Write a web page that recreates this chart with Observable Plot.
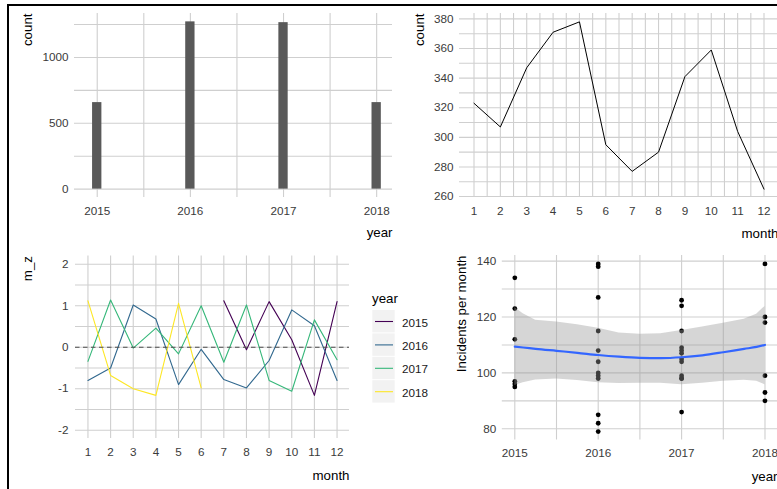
<!DOCTYPE html>
<html><head><meta charset="utf-8">
<script src="https://cdn.jsdelivr.net/npm/d3@7"></script>
<script src="https://cdn.jsdelivr.net/npm/@observablehq/plot@0.6"></script>
<style>
html,body{margin:0;padding:0;background:#fff;}
#wrap{position:relative;width:777px;height:489px;overflow:hidden;background:#fff;font-family:"Liberation Sans",Arial,sans-serif;}
#wrap svg{position:absolute;overflow:visible;}
#frame{position:absolute;left:7px;top:4px;width:800px;height:500px;border-left:2px solid #000;border-top:2px solid #000;pointer-events:none;}
</style>
</head><body><div id="wrap"></div>
<script>
// ---------- data ----------
const years = [2015, 2016, 2017, 2018];
const yearCounts = [657, 1270, 1264, 657];

const months = [1, 2, 3, 4, 5, 6, 7, 8, 9, 10, 11, 12];
const monthCounts = [323, 307, 347, 371, 378, 295, 277, 290, 341, 359, 304, 265];

const mz2015 = [null, null, null, null, null, null, 1.12, -0.06, 1.10, 0.18, -1.16, 1.10];
const mz2016 = [-0.80, -0.50, 1.02, 0.68, -0.90, -0.05, -0.78, -0.98, -0.32, 0.90, 0.52, -0.80];
const mz2017 = [-0.34, 1.14, -0.02, 0.46, -0.16, 1.00, -0.36, 1.02, -0.80, -1.06, 0.66, -0.30];
const mz2018 = [1.12, -0.68, -1.00, -1.16, 1.06, -0.98, null, null, null, null, null, null];

const inc2015 = [134, 123, 112, 97, 96, 95];
const inc2016 = [139, 138, 127, 115, 108, 104, 100, 99, 98, 85, 82, 79];
const inc2017 = [126, 124, 115, 109, 108, 107, 105, 104, 99, 98, 98, 86];
const inc2018 = [139, 120, 118, 99, 93, 90];

const smoothX  = [2015, 2015.1, 2015.25, 2015.5, 2015.75, 2016, 2016.25, 2016.5, 2016.75, 2017, 2017.25, 2017.5, 2017.75, 2017.9, 2018];
const smoothY  = [109.4, 109.1, 108.6, 107.9, 107.2, 106.4, 105.8, 105.4, 105.3, 105.6, 106.3, 107.4, 108.6, 109.3, 110.0];
const smoothLo = [95.5, 96.5, 97.5, 97.8, 97.3, 96.5, 96.2, 96.3, 96.3, 95.8, 96.3, 97.0, 97.4, 97.0, 95.8];
const smoothHi = [123.4, 121.2, 118.8, 118.2, 117.2, 116.0, 114.3, 113.8, 114.0, 115.2, 116.4, 117.8, 119.2, 121.0, 123.8];

const yearColors = ["#440154", "#31688E", "#35B779", "#FDE725"];

// ---------- tables ----------
const bars = years.map((y, i) => ({year: y, count: yearCounts[i]}));
const monthly = months.map((m, i) => ({month: m, count: monthCounts[i]}));
const mzAll = [[2015, mz2015], [2016, mz2016], [2017, mz2017], [2018, mz2018]];
const mzRows = [];
for (const [yr, arr] of mzAll) arr.forEach((v, i) => { if (v !== null) mzRows.push({year: yr, month: months[i], z: v}); });
const incRows = [];
[[2015, inc2015], [2016, inc2016], [2017, inc2017], [2018, inc2018]].forEach(([yr, arr]) => arr.forEach(v => incRows.push({year: yr, value: v})));
const smooth = smoothX.map((x, i) => ({x, y: smoothY[i], lo: smoothLo[i], hi: smoothHi[i]}));

// ---------- helpers ----------
const wrap = document.getElementById("wrap");
const FONT = '"Liberation Sans", Arial, sans-serif';
const grid = {stroke: "#cfcfcf", strokeOpacity: 1, strokeWidth: 1.1};
const style = {fontFamily: FONT, fontSize: "11.7px", color: "#3a3a3a", background: "transparent", overflow: "visible"};
const fmt = d => String(d);
function place(el, left, top) { el.style.left = left + "px"; el.style.top = top + "px"; wrap.append(el); }
function yTitle(t, dx) {
  return Plot.text([t], {text: d => d, frameAnchor: "top-left", rotate: -90, dx, textAnchor: "end", lineAnchor: "middle", fontSize: 13.3, fill: "#000"});
}
function xTitle(t, dy) {
  return Plot.text([t], {text: d => d, frameAnchor: "bottom-right", dy, textAnchor: "end", lineAnchor: "middle", fontSize: 13.3, fill: "#000"});
}

// ---------- panel 1 : count by year ----------
const p1 = Plot.plot({
  width: 395, height: 245, marginLeft: 74, marginRight: 3, marginTop: 13, marginBottom: 48,
  style,
  x: {domain: [2014.756, 2018.17]},
  y: {domain: [-63.5, 1333.5]},
  marks: [
    Plot.gridX([2015, 2015.5, 2016, 2016.5, 2017, 2017.5, 2018], grid),
    Plot.gridY([0, 250, 500, 750, 1000, 1250], grid),
    Plot.rectY(bars, {x1: d => d.year - 0.05, x2: d => d.year + 0.05, y1: 0, y2: "count", fill: "#595959"}),
    Plot.axisX(years, {tickSize: 0, tickPadding: 9, tickFormat: fmt, label: null}),
    Plot.axisY([0, 500, 1000], {tickSize: 0, tickPadding: 6, tickFormat: fmt, label: null}),
    yTitle("count", -47),
    xTitle("year", 35)
  ]
});
place(p1, 0, 0);

// ---------- panel 2 : count by month ----------
const halfMonths = d3.range(1, 12.01, 0.5);
const p2 = Plot.plot({
  width: 388, height: 245, marginLeft: 69, marginRight: 0, marginTop: 13, marginBottom: 48,
  style,
  x: {domain: [0.45, 12.55]},
  y: {domain: [259.35, 383.65]},
  marks: [
    Plot.gridX(halfMonths, grid),
    Plot.gridY(d3.range(260, 381, 10), grid),
    Plot.line(monthly, {x: "month", y: "count", stroke: "#000", strokeWidth: 1}),
    Plot.axisX(months, {tickSize: 0, tickPadding: 9, tickFormat: fmt, label: null}),
    Plot.axisY(d3.range(260, 381, 20), {tickSize: 0, tickPadding: 6, tickFormat: fmt, label: null}),
    yTitle("count", -39.5),
    xTitle("month", 36)
  ]
});
place(p2, 390, 0);

// ---------- panel 3 : m_z by month ----------
const p3 = Plot.plot({
  width: 360, height: 244, marginLeft: 75, marginRight: 11, marginTop: 10.5, marginBottom: 51,
  style,
  x: {domain: [0.45, 12.55]},
  y: {domain: [-2.2, 2.2]},
  color: {type: "ordinal", domain: years, range: yearColors},
  marks: [
    Plot.gridX(months, grid),
    Plot.gridY([-2, -1.5, -1, -0.5, 0, 0.5, 1, 1.5, 2], grid),
    Plot.line(mzRows, {x: "month", y: "z", z: "year", stroke: "year", strokeWidth: 1.1}),
    Plot.ruleY([0], {stroke: "#4d4d4d", strokeWidth: 1.1, strokeDasharray: "4.5,3.5"}),
    Plot.axisX(months, {tickSize: 0, tickPadding: 9, tickFormat: fmt, label: null}),
    Plot.axisY([-2, -1, 0, 1, 2], {tickSize: 0, tickPadding: 7, tickFormat: fmt, label: null}),
    yTitle("m_z", -48),
    xTitle("month", 37)
  ]
});
place(p3, 0, 245);

// legend (uses panel 3's colour scale)
const colorScale = p3.scale("color");
const lg = d3.create("svg").attr("width", 80).attr("height", 130)
  .style("font-family", FONT);
lg.append("text").attr("x", 12).attr("y", 18).attr("dy", "0.35em").attr("font-size", 13.3).attr("fill", "#000").text("year");
colorScale.domain.forEach((yr, i) => {
  const top = 30 + i * 23.4;
  lg.append("rect").attr("x", 12.3).attr("y", top).attr("width", 22.4).attr("height", 22.4).attr("fill", "#f2f2f2");
  lg.append("line").attr("x1", 15).attr("x2", 33).attr("y1", top + 11.5).attr("y2", top + 11.5)
    .attr("stroke", colorScale.apply(yr)).attr("stroke-width", 1.1);
  lg.append("text").attr("x", 42).attr("y", top + 12.5).attr("dy", "0.35em").attr("font-size", 11.7).attr("fill", "#1a1a1a").text(String(yr));
});
place(lg.node(), 360, 280);

// ---------- panel 4 : incidents per month by year ----------
const p4 = Plot.plot({
  width: 387, height: 244, marginLeft: 111.8, marginRight: 0, marginTop: 10, marginBottom: 49.5,
  style,
  x: {domain: [2014.85, 2018.15]},
  y: {domain: [76, 142]},
  marks: [
    Plot.gridX([2015, 2015.5, 2016, 2016.5, 2017, 2017.5, 2018], grid),
    Plot.gridY([80, 90, 100, 110, 120, 130, 140], grid),
    Plot.dot(incRows, {x: "year", y: "value", r: 2.4, fill: "#000", stroke: "none"}),
    Plot.areaY(smooth, {x: "x", y1: "lo", y2: "hi", fill: "#999999", fillOpacity: 0.4}),
    Plot.line(smooth, {x: "x", y: "y", stroke: "#3366FF", strokeWidth: 2.2, curve: "monotone-x"}),
    Plot.axisX(years, {tickSize: 0, tickPadding: 9, tickFormat: fmt, label: null}),
    Plot.axisY([80, 100, 120, 140], {tickSize: 0, tickPadding: 6, tickFormat: fmt, label: null}),
    yTitle("Incidents per month", -41),
    xTitle("year", 36.5)
  ]
});
place(p4, 390, 245);

const fr = document.createElement("div");
fr.id = "frame";
wrap.append(fr);
</script>
</body></html>
